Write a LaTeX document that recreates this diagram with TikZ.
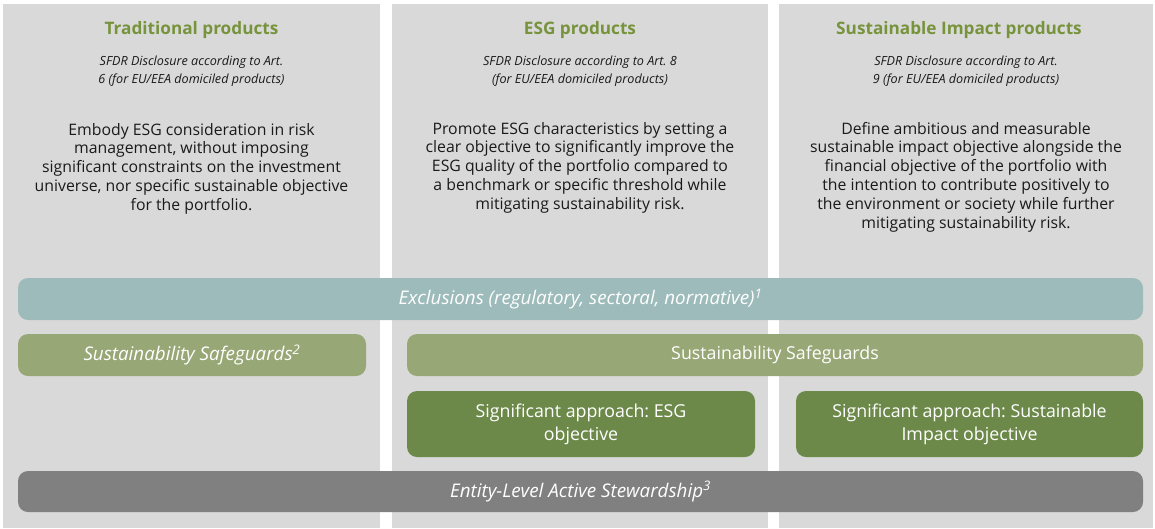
\documentclass[tikz,border=0pt]{standalone}
\usepackage{fontspec}
\setmainfont{Open Sans}
\frenchspacing
\definecolor{colbg}{HTML}{D9D9D9}
\definecolor{titlegreen}{HTML}{77933C}
\definecolor{exclc}{HTML}{9CBBBA}
\definecolor{safec}{HTML}{98A776}
\definecolor{sigc}{HTML}{6C894A}
\definecolor{entc}{HTML}{808080}
\definecolor{txtc}{HTML}{1A1A1A}
\begin{document}
\begin{tikzpicture}[x=1pt,y=-1pt,
  column/.style={fill=colbg,draw=none,inner sep=0pt},
  title/.style={text=titlegreen,font=\fontsize{17.2}{20}\selectfont\bfseries,inner sep=0pt},
  sfdr/.style={text=txtc,font=\fontsize{12.6}{18}\selectfont\itshape,align=center,inner sep=0pt},
  body/.style={text=txtc,font=\fontsize{15.8}{18.8}\selectfont,align=center,inner sep=0pt},
  bar/.style={rounded corners=10pt,draw=none,inner sep=0pt,text=white,align=center},
  barit/.style={bar,font=\fontsize{18.8}{20}\selectfont\itshape},
  barrm/.style={bar,font=\fontsize{17.8}{23}\selectfont}]
\useasboundingbox (0,0) rectangle (1155,528);
\fill[white] (0,0) rectangle (1155,528);
% columns
\node[column,minimum width=377pt,minimum height=524pt] (c1) at (191.5,266) {};
\node[column,minimum width=376pt,minimum height=524pt] (c2) at (580,266) {};
\node[column,minimum width=374pt,minimum height=524pt] (c3) at (966,266) {};
% titles
\node[title] (t1) at (191.5,30) {Traditional products};
\node[title] (t2) at (580,30) {ESG products};
\node[title] (t3) at (959,30) {Sustainable Impact products};
% sfdr
\node[sfdr] (s1) at (191.5,71) {SFDR Disclosure according to Art.\\6 (for EU/EEA domiciled products)};
\node[sfdr] (s2) at (580,71) {SFDR Disclosure according to Art. 8\\(for EU/EEA domiciled products)};
\node[sfdr] (s3) at (966,71) {SFDR Disclosure according to Art.\\9 (for EU/EEA domiciled products)};
% body
\node[body] (b1) at (191.5,168.5) {Embody ESG consideration in risk\\management, without imposing\\significant constraints on the investment\\universe, nor specific sustainable objective\\for the portfolio.};
\node[body] (b2) at (580,167.5) {Promote ESG characteristics by setting a\\clear objective to significantly improve the\\ESG quality of the portfolio compared to\\a benchmark or specific threshold while\\mitigating sustainability risk.};
\node[body] (b3) at (966,177) {Define ambitious and measurable\\sustainable impact objective alongside the\\financial objective of the portfolio with\\the intention to contribute positively to\\the environment or society while further\\mitigating sustainability risk.};
% bars
\node[barit,fill=exclc,minimum width=1125pt,minimum height=42pt] (excl) at (580.5,299) {Exclusions (regulatory, sectoral, normative)\textsuperscript{1}};
\node[barit,fill=safec,minimum width=348pt,minimum height=42pt] (sg2) at (192,355) {Sustainability Safeguards\textsuperscript{2}};
\node[barrm,fill=safec,minimum width=736pt,minimum height=42pt] (sg) at (775,355) {Sustainability Safeguards};
\node[barrm,fill=sigc,minimum width=348pt,minimum height=66pt] (sigesg) at (581,424) {Significant approach: ESG\\objective};
\node[barrm,fill=sigc,minimum width=347pt,minimum height=66pt] (sigimp) at (969.5,424) {Significant approach: Sustainable\\Impact objective};
\node[barit,fill=entc,minimum width=1125pt,minimum height=41pt] (ent) at (580.5,491.5) {Entity-Level Active Stewardship\textsuperscript{3}};
\end{tikzpicture}
\end{document}
